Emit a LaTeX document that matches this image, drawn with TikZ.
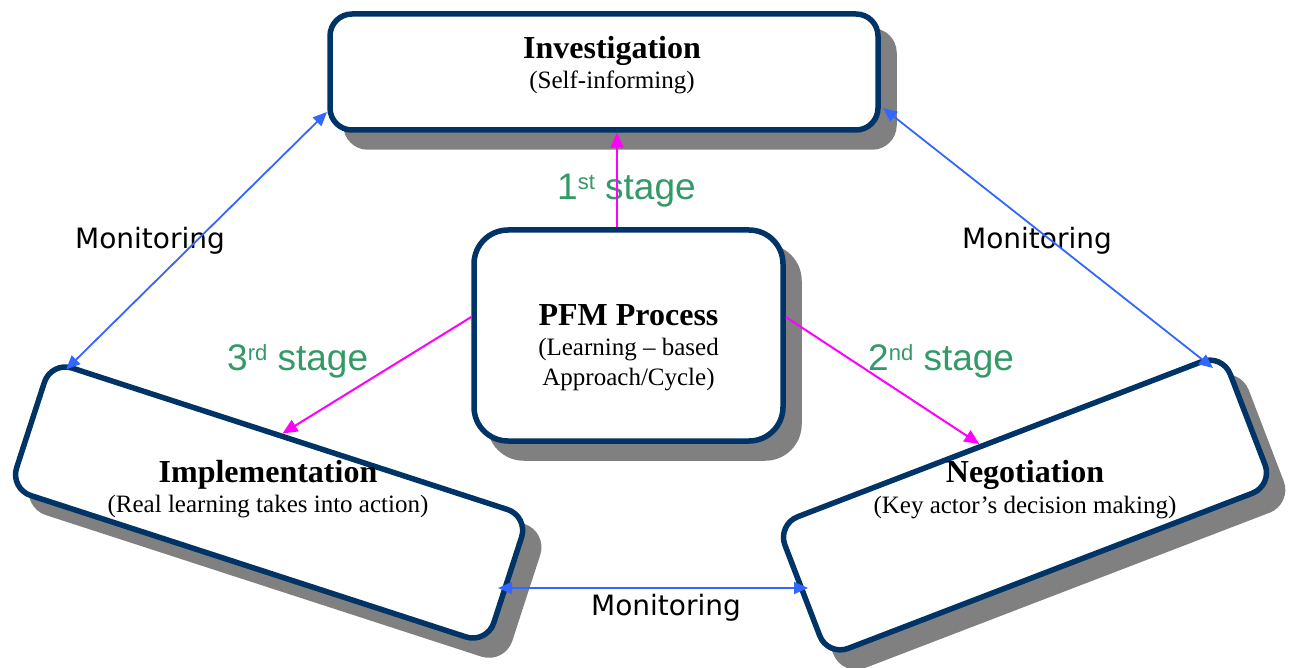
\documentclass[tikz,border=0pt]{standalone}
\usepackage{fontspec}
\setmainfont{Liberation Serif}
\newfontfamily\stagefont{Liberation Sans}
\newfontfamily\monfont{DejaVu Sans}
\usetikzlibrary{arrows.meta,calc}
\definecolor{boxblue}{RGB}{0,51,102}
\definecolor{shadowgray}{RGB}{128,128,128}
\definecolor{stagegreen}{RGB}{51,153,102}
\definecolor{monblue}{RGB}{51,102,255}
\definecolor{stagemag}{RGB}{255,0,255}
\newcommand{\stagesup}[1]{\raisebox{10pt}{\fontsize{22}{22}\selectfont #1}}
\begin{document}
\begin{tikzpicture}[x=1pt,y=-1pt,
  box/.style={draw=boxblue, line width=5.5pt, fill=white, rounded corners=22pt, inner sep=0pt},
  shadowbox/.style={fill=shadowgray, rounded corners=24.5pt, inner sep=0pt},
  title/.style={font=\fontsize{32}{36}\selectfont\bfseries, anchor=base, inner sep=0pt},
  subtitle/.style={font=\fontsize{25}{30}\selectfont, anchor=base, inner sep=0pt},
  stage/.style={font=\stagefont\fontsize{37}{40}\selectfont, text=stagegreen, anchor=base west, inner sep=0pt},
  mon/.style={font=\monfont\fontsize{28}{32}\selectfont, anchor=base, inner sep=0pt},
  stagearrow/.style={draw=stagemag, line width=2pt, -{Triangle[length=15pt,width=13pt]}},
  monarrow/.style={draw=monblue, line width=1.8pt, {Triangle[length=14pt,width=12pt]}-{Triangle[length=14pt,width=12pt]}},
]
\useasboundingbox (0,0) rectangle (1290,668);
% shadows
\node[shadowbox, minimum width=553.5pt, minimum height=121.5pt] (invsh) at (620,89) {};
\node[shadowbox, rounded corners=36.5pt, minimum width=314.5pt, minimum height=216.5pt] (pfmsh) at (644.5,352.5) {};
\node[shadowbox, rotate=-18, minimum width=507.2pt, minimum height=139.5pt] (implsh) at (285.1,519.5) {};
\node[shadowbox, rotate=21, minimum width=482.5pt, minimum height=146.5pt] (negsh) at (1041,522) {};
% boxes
\node[box, minimum width=548pt, minimum height=116pt] (inv) at (604,72) {};
\node[box, rounded corners=34pt, minimum width=309pt, minimum height=211pt] (pfm) at (628.5,335.5) {};
\node[box, rotate=-18, minimum width=501.7pt, minimum height=134pt] (impl) at (269.1,502.5) {};
\node[box, rotate=21, minimum width=477pt, minimum height=141pt] (neg) at (1025,505) {};
% box texts
\node[title] (invt) at (612,59) {Investigation};
\node[subtitle] (invs) at (612,89) {(Self-informing)};
\node[title] (pfmt) at (628.5,325) {PFM Process};
\node[subtitle] (pfms1) at (628.5,355) {(Learning – based};
\node[subtitle] (pfms2) at (628.5,385) {Approach/Cycle)};
\node[title] (implt) at (268,482) {Implementation};
\node[subtitle] (impls) at (268,512) {(Real learning takes into action)};
\node[title] (negt) at (1025,482) {Negotiation};
\node[subtitle] (negs) at (1025,513) {(Key actor’s decision making)};
% stage labels
\node[stage] (s1) at (557,200) {1\stagesup{st} stage};
\node[stage] (s2) at (868,370) {2\stagesup{nd} stage};
\node[stage] (s3) at (227,370) {3\stagesup{rd} stage};
% monitoring labels
\node[mon] (mon1) at (150,249) {Monitoring};
\node[mon] (mon2) at (1037,249) {Monitoring};
\node[mon] (mon3) at (666,615) {Monitoring};
% stage arrows
\coordinate (m1) at ($(pfm.north)+(-11.5,0)$);
\draw[stagearrow] (m1) -- (m1 |- inv.south);
\draw[stagearrow] ($(pfm.west)+(0,-18.5)$) -- ($(impl.north west)!0.483!(impl.north east)$);
\draw[stagearrow] ($(pfm.east)+(0,-18.5)$) -- ($(neg.north west)!0.457!(neg.north east)$);
% monitoring arrows
\draw[monarrow] ($(inv.center)+(-277,40)$) -- ($(impl.center)+(-203,-133)$);
\draw[monarrow] ($(inv.center)+(279,36)$) -- ($(neg.center)+(188,-137)$);
\draw[monarrow] ($(impl.center)+(229,85.5)$) -- ($(neg.center)+(-217,83)$);
\end{tikzpicture}
\end{document}
